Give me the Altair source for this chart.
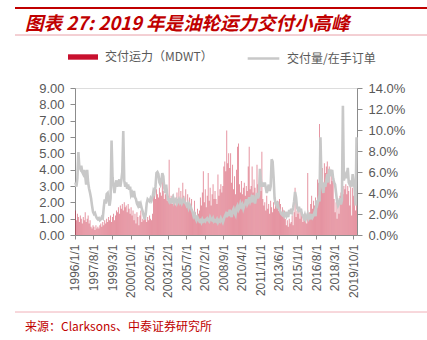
import altair as alt
import pandas as pd

# ---- data (monthly, 1996/1 .. 2020/1) ----
# delivered tanker capacity, MDWT
deliv_1996 = [1.5, 0.9, 1.3, 1.1, 0.8, 1.2, 1.0, 0.7, 1.1, 0.9, 1.4, 0.8]
deliv_1997 = [1.0, 1.2, 0.7, 0.9, 0.5, 0.4, 0.6, 0.5, 0.3, 0.6, 0.4, 0.5]
deliv_1998 = [0.4, 0.6, 0.7, 0.5, 0.8, 0.6, 0.9, 0.7, 1.0, 0.8, 1.1, 0.9]
deliv_1999 = [1.2, 0.8, 1.1, 1.3, 0.9, 1.2, 1.5, 1.4, 1.7, 1.3, 1.8, 1.6]
deliv_2000 = [1.9, 1.5, 2.0, 1.7, 1.8, 1.4, 1.9, 1.6, 1.3, 1.7, 1.2, 1.5]
deliv_2001 = [0.9, 1.3, 0.7, 1.4, 1.1, 0.6, 1.2, 1.5, 0.8, 1.0, 0.9, 1.1]
deliv_2002 = [1.0, 0.8, 1.1, 0.9, 1.2, 1.0, 0.9, 1.3, 2.4, 2.6, 2.2, 2.8]
deliv_2003 = [2.5, 2.3, 2.9, 2.6, 2.4, 3.5, 2.7, 2.2, 2.5, 2.8, 2.1, 2.4]
deliv_2004 = [4.6, 2.1, 2.4, 1.9, 2.5, 2.0, 2.3, 1.8, 2.6, 2.2, 2.9, 1.9]
deliv_2005 = [2.7, 2.1, 3.2, 2.4, 2.0, 2.8, 1.7, 2.5, 1.9, 2.3, 1.6, 2.2]
deliv_2006 = [1.5, 1.3, 2.1, 1.4, 1.2, 1.6, 1.3, 1.5, 2.3, 1.8, 2.6, 3.9]
deliv_2007 = [2.0, 2.8, 1.7, 2.4, 3.8, 2.1, 2.9, 1.8, 2.5, 3.1, 2.2, 2.7]
deliv_2008 = [2.2, 1.9, 3.7, 2.4, 2.8, 3.1, 2.6, 3.0, 4.2, 4.5, 3.9, 6.4]
deliv_2009 = [4.4, 5.0, 4.1, 5.0, 3.2, 4.3, 2.8, 3.6, 2.5, 4.0, 5.4, 5.6]
deliv_2010 = [3.1, 2.6, 3.3, 2.5, 2.9, 3.2, 2.4, 3.0, 2.7, 4.2, 5.4, 2.8]
deliv_2011 = [3.0, 4.2, 2.6, 3.4, 2.9, 2.3, 4.3, 3.1, 2.5, 3.6, 2.7, 5.1]
deliv_2012 = [2.2, 1.8, 2.0, 1.5, 2.4, 1.6, 1.9, 1.3, 2.1, 1.7, 1.4, 2.0]
deliv_2013 = [1.6, 2.3, 1.8, 2.1, 1.5, 2.2, 1.9, 1.4, 1.7, 1.2, 1.5, 1.0]
deliv_2014 = [0.6, 0.9, 0.5, 1.0, 0.7, 0.8, 1.2, 0.6, 1.4, 2.9, 1.1, 1.5]
deliv_2015 = [1.3, 1.7, 1.0, 1.6, 1.2, 0.8, 1.1, 0.9, 1.3, 0.7, 3.8, 1.2]
deliv_2016 = [1.4, 1.9, 2.4, 1.6, 2.1, 1.8, 2.3, 1.5, 3.4, 3.2, 6.8, 3.7]
deliv_2017 = [3.5, 4.1, 3.2, 4.4, 3.8, 4.2, 4.5, 3.6, 4.2, 3.1, 4.0, 3.3]
deliv_2018 = [3.6, 2.2, 1.4, 2.0, 1.0, 1.8, 1.3, 2.4, 2.6, 2.9, 2.5, 3.0]
deliv_2019 = [2.8, 3.1, 2.5, 3.0, 2.7, 1.8, 3.1, 1.2, 2.9, 2.4, 3.2, 1.5]
deliv_2020 = [2.6]

# deliveries / orderbook, in percent
ratio_1996 = [5.0, 4.6, 5.4, 7.9, 6.5, 6.3, 6.6, 6.0, 5.8, 6.2, 5.6, 4.8]
ratio_1997 = [6.2, 5.0, 4.4, 4.0, 3.5, 2.8, 2.2, 2.0, 2.1, 1.8, 1.6, 1.5]
ratio_1998 = [1.6, 1.4, 1.5, 1.7, 1.6, 2.6, 3.4, 3.0, 3.9, 4.0, 3.2, 2.8]
ratio_1999 = [3.5, 9.0, 5.5, 4.6, 4.0, 4.8, 5.2, 4.6, 5.0, 5.3, 4.6, 5.2]
ratio_2000 = [6.0, 9.9, 5.2, 4.6, 5.0, 4.4, 4.8, 4.3, 4.6, 3.8, 4.0, 3.6]
ratio_2001 = [4.2, 3.6, 3.4, 3.0, 2.8, 3.2, 2.6, 2.9, 2.5, 2.2, 1.8, 1.5]
ratio_2002 = [2.0, 3.0, 3.4, 3.3, 3.2, 3.5, 3.3, 3.6, 4.2, 4.0, 4.6, 5.9]
ratio_2003 = [6.0, 5.8, 5.0, 4.8, 5.2, 5.9, 5.6, 4.5, 4.0, 4.8, 3.8, 3.4]
ratio_2004 = [3.2, 3.5, 3.0, 3.4, 3.6, 3.1, 3.3, 3.4, 3.0, 3.2, 3.4, 3.1]
ratio_2005 = [3.3, 3.0, 3.2, 3.4, 3.1, 3.0, 2.8, 3.0, 2.6, 2.9, 2.7, 2.4]
ratio_2006 = [2.2, 1.8, 2.0, 1.6, 1.4, 1.7, 1.5, 1.3, 1.4, 1.2, 1.5, 1.3]
ratio_2007 = [1.4, 1.3, 1.5, 1.6, 1.4, 1.3, 1.7, 1.5, 1.4, 1.6, 1.3, 1.4]
ratio_2008 = [1.3, 1.5, 1.2, 1.4, 1.3, 1.6, 1.4, 1.2, 1.5, 1.8, 2.0, 1.7]
ratio_2009 = [2.2, 1.8, 2.4, 2.0, 1.7, 2.3, 2.5, 2.1, 1.9, 2.6, 2.8, 2.4]
ratio_2010 = [2.6, 3.0, 2.7, 2.9, 2.5, 2.8, 3.0, 3.4, 2.9, 3.1, 3.6, 3.2]
ratio_2011 = [3.5, 3.1, 3.8, 3.4, 3.0, 3.6, 4.0, 3.5, 3.8, 6.3, 5.2, 4.6]
ratio_2012 = [5.0, 4.6, 5.0, 4.5, 4.0, 4.4, 4.8, 4.2, 4.6, 7.2, 7.0, 5.5]
ratio_2013 = [3.5, 3.0, 2.8, 3.2, 2.6, 2.4, 2.2, 2.0, 1.9, 2.1, 1.8, 2.0]
ratio_2014 = [1.8, 2.2, 1.7, 2.4, 2.0, 2.5, 2.2, 2.6, 3.2, 4.1, 3.6, 2.6]
ratio_2015 = [2.4, 2.7, 2.2, 2.5, 2.0, 1.8, 1.6, 1.9, 1.5, 1.7, 2.0, 1.6]
ratio_2016 = [1.8, 1.5, 2.0, 1.7, 1.9, 2.2, 1.8, 3.3, 3.0, 3.4, 3.2, 9.3]
ratio_2017 = [5.5, 4.5, 4.0, 5.0, 4.6, 5.2, 5.8, 5.0, 6.3, 5.6, 5.9, 6.2]
ratio_2018 = [5.4, 5.0, 4.8, 4.0, 3.2, 2.8, 3.0, 3.5, 2.9, 3.3, 12.3, 5.2]
ratio_2019 = [5.6, 5.8, 5.4, 6.4, 5.0, 4.8, 5.2, 4.6, 5.8, 5.0, 4.5, 2.8]
ratio_2020 = [9.3]

x_tick_labels = ["1996/1/1", "1997/8/1", "1999/3/1", "2000/10/1", "2002/5/1",
                 "2003/12/1", "2005/7/1", "2007/2/1", "2008/9/1", "2010/4/1",
                 "2011/11/1", "2013/6/1", "2015/1/1", "2016/8/1", "2018/3/1",
                 "2019/10/1"]
left_ticks = [0, 1, 2, 3, 4, 5, 6, 7, 8, 9]
right_ticks = [0, 0.02, 0.04, 0.06, 0.08, 0.10, 0.12, 0.14]

bar_name = "交付运力（MDWT）"
line_name = "交付量/在手订单"
title_text = "图表 27: 2019 年是油轮运力交付小高峰"
source_text = "来源：Clarksons、中泰证券研究所"

deliveries = (deliv_1996 + deliv_1997 + deliv_1998 + deliv_1999 + deliv_2000 +
              deliv_2001 + deliv_2002 + deliv_2003 + deliv_2004 + deliv_2005 +
              deliv_2006 + deliv_2007 + deliv_2008 + deliv_2009 + deliv_2010 +
              deliv_2011 + deliv_2012 + deliv_2013 + deliv_2014 + deliv_2015 +
              deliv_2016 + deliv_2017 + deliv_2018 + deliv_2019 + deliv_2020)
ratios = (ratio_1996 + ratio_1997 + ratio_1998 + ratio_1999 + ratio_2000 +
          ratio_2001 + ratio_2002 + ratio_2003 + ratio_2004 + ratio_2005 +
          ratio_2006 + ratio_2007 + ratio_2008 + ratio_2009 + ratio_2010 +
          ratio_2011 + ratio_2012 + ratio_2013 + ratio_2014 + ratio_2015 +
          ratio_2016 + ratio_2017 + ratio_2018 + ratio_2019 + ratio_2020)

months = [f"{y}/{m}/1" for y in range(1996, 2021) for m in range(1, 13)][:len(deliveries)]

df = pd.DataFrame({
    "month": months,
    "delivery": deliveries,
    "ratio": [r / 100 for r in ratios],
    "s1": bar_name,
    "s2": line_name,
})

AXIS_GRAY = "#8c8c8c"
LABEL_GRAY = "#595959"
FONT = "Liberation Sans"
CJK = "Noto Sans CJK SC"

base = alt.Chart(df).encode(
    x=alt.X("month:N", sort=None,
            scale=alt.Scale(paddingInner=0.1, paddingOuter=0),
            axis=alt.Axis(values=x_tick_labels, labelAngle=270, title=None,
                          labelFont=FONT, labelFontSize=12, labelColor=LABEL_GRAY,
                          domainColor=AXIS_GRAY, tickColor=AXIS_GRAY, tickSize=4,
                          labelPadding=5))
)

bars = base.mark_bar(opacity=0.5).encode(
    y=alt.Y("delivery:Q", scale=alt.Scale(domain=[0, 9]),
            axis=alt.Axis(orient="left", values=left_ticks, format=".2f", title=None,
                          labelFont=FONT, labelFontSize=13, labelColor=LABEL_GRAY,
                          domainColor=AXIS_GRAY, tickColor=AXIS_GRAY, tickSize=5,
                          labelPadding=6, grid=False)),
    fill=alt.Fill("s1:N", scale=alt.Scale(domain=[bar_name], range=["#c8102e"]),
                  legend=alt.Legend(title=None, orient="none", legendX=-8, legendY=-47,
                                    symbolType="M-1,-0.18H1V0.18H-1Z", symbolSize=900,
                                    symbolOpacity=1, labelFont=CJK, labelFontSize=12,
                                    labelColor=LABEL_GRAY, labelOffset=6)),
)

line = base.mark_line(strokeWidth=2.6).encode(
    y=alt.Y("ratio:Q", scale=alt.Scale(domain=[0, 0.14]),
            axis=alt.Axis(orient="right", values=right_ticks, format=".1%", title=None,
                          labelFont=FONT, labelFontSize=13, labelColor=LABEL_GRAY,
                          domainColor=AXIS_GRAY, tickColor=AXIS_GRAY, tickSize=5,
                          labelPadding=6, grid=False)),
    stroke=alt.Stroke("s2:N", scale=alt.Scale(domain=[line_name], range=["#c8c8c8"]),
                      legend=alt.Legend(title=None, orient="none", legendX=171, legendY=-47,
                                        symbolType="stroke", symbolSize=1000,
                                        symbolStrokeWidth=2.5, labelFont=CJK,
                                        labelFontSize=12, labelColor=LABEL_GRAY,
                                        labelOffset=6)),
)

one = pd.DataFrame({"k": [0]})
top_rule = alt.Chart(one).mark_rule(color="#c00000", strokeWidth=2.2).encode(
    x=alt.value(-60), x2=alt.value(352), y=alt.value(-80))
title_rule = alt.Chart(one).mark_rule(color="#e8a0a8", strokeWidth=1).encode(
    x=alt.value(-60), x2=alt.value(352), y=alt.value(-53))
src_rule = alt.Chart(one).mark_rule(color="#f0b0b8", strokeWidth=1).encode(
    x=alt.value(-60), x2=alt.value(352), y=alt.value(224))
title_mark = alt.Chart(one).mark_text(
    text=title_text, align="left", baseline="middle", font=CJK, fontSize=18.5,
    fontStyle="italic", fontWeight="bold", color="#c00000").encode(
    x=alt.value(-50), y=alt.value(-64))
src_mark = alt.Chart(one).mark_text(
    text=source_text, align="left", baseline="middle", font=CJK, fontSize=12,
    color="#c00000").encode(x=alt.value(-50), y=alt.value(239))

chart = alt.layer(bars, line, top_rule, title_rule, src_rule, title_mark, src_mark).resolve_scale(
    y="independent"
).properties(
    width=282, height=147,
    autosize=alt.AutoSizeParams(type="none"),
    padding={"left": 75, "top": 88, "right": 70, "bottom": 105},
).configure_view(stroke=None).configure(background="white")

chart.save("out.html", embed_options={"renderer": "svg", "actions": False})
